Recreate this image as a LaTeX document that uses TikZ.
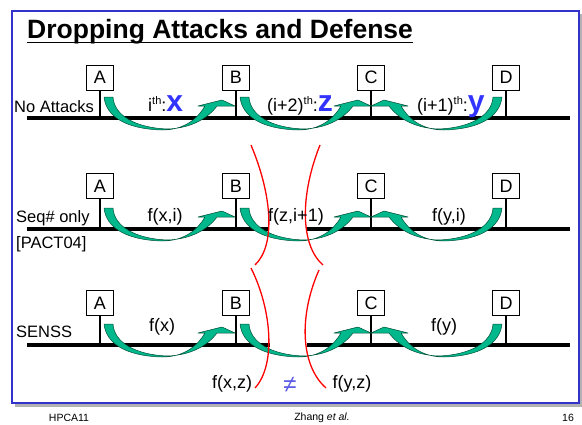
\documentclass[tikz,border=0pt]{standalone}
\usepackage{fontspec}
\setmainfont{Liberation Sans}
\definecolor{frameblue}{RGB}{51,51,204}
\definecolor{xblue}{RGB}{51,51,255}
\definecolor{agreen}{RGB}{0,184,140}
\definecolor{adark}{RGB}{0,80,55}
\definecolor{neqblue}{RGB}{90,90,230}
\begin{document}
\begin{tikzpicture}[x=1pt,y=-1pt,
  box/.style={draw,line width=1pt,fill=white,minimum width=27pt,minimum height=25pt,inner sep=0pt,font=\fontsize{18}{20}\selectfont},
  stem/.style={line width=1.6pt},
  wire/.style={line width=4pt},
  lbl/.style={font=\fontsize{16.5}{19}\selectfont,inner sep=0pt},
  flbl/.style={font=\fontsize{18}{21}\selectfont,inner sep=0pt},
  brk/.style={red,line width=1.3pt},
  garrow/.pic={\filldraw[fill=agreen,draw=adark,line width=0.5pt,line join=round]
     (4,-21) .. controls (6,-2) and (25,11) .. (62,12)
     .. controls (85,12) and (98,0) .. (105,-12)
     -- (98,-12) -- (122,-18) -- (135,-12) -- (117,-12)
     .. controls (108,0) and (92,10) .. (68,11)
     .. controls (35,10) and (14,-3) .. (13,-21) -- cycle;}
]
\useasboundingbox (0,0) rectangle (582,424);
% frame
\fill[white] (12,11) rectangle (579,403);
\draw[gray!60,line width=2.5pt] (581.5,13.5) -- (581.5,405.5) -- (14.5,405.5);
\draw[frameblue,line width=2.5pt] (12,11) rectangle (579,403);
% title
\node[anchor=base west,inner sep=0pt,font=\fontsize{26.5}{30}\selectfont\bfseries] (title) at (27,38) {Dropping Attacks and Defense};
\draw[line width=1.5pt] ([yshift=-4.5pt]title.base west) -- ([yshift=-4.5pt]title.base east);

% ---------- row 1
\coordinate (L1w) at (27,118); \coordinate (L1e) at (570,118);
\draw[wire] (L1w) -- (L1e);
\node[box] (A1) at (100,77.5) {A};
\node[box] (B1) at (236,77.5) {B};
\node[box] (C1) at (371,77.5) {C};
\node[box] (D1) at (506,77.5) {D};
\foreach \n in {A1,B1,C1,D1} \draw[stem] (\n.south) -- (\n.south |- L1w);
\pic at (A1.south |- L1w) {garrow};
\pic at (B1.south |- L1w) {garrow};
\pic[xscale=-1] at (D1.south |- L1w) {garrow};
\node[lbl,anchor=west] (r1) at (14,107) {No Attacks};
\node[flbl,anchor=base west] (x1) at (148,111) {i{\fontsize{11}{12}\selectfont\raisebox{6.5pt}{th}}:{\color{xblue}\fontsize{30}{30}\selectfont\bfseries x}};
\node[flbl,anchor=base west] (z1) at (267,111) {(i+2){\fontsize{11}{12}\selectfont\raisebox{6.5pt}{th}}:{\color{xblue}\fontsize{30}{30}\selectfont\bfseries z}};
\node[flbl,anchor=base west] (y1) at (417,111) {(i+1){\fontsize{11}{12}\selectfont\raisebox{6.5pt}{th}}:{\color{xblue}\fontsize{30}{30}\selectfont\bfseries y}};

% ---------- row 2
\coordinate (L2w) at (27,229); \coordinate (L2m) at (268,229);
\coordinate (L2n) at (307,229); \coordinate (L2e) at (570,229);
\draw[wire] (L2w) -- (L2m);
\draw[wire] (L2n) -- (L2e);
\node[box] (A2) at (100,186) {A};
\node[box] (B2) at (236,186) {B};
\node[box] (C2) at (371,186) {C};
\node[box] (D2) at (506,186) {D};
\foreach \n in {A2,B2,C2,D2} \draw[stem] (\n.south) -- (\n.south |- L2w);
\pic at (A2.south |- L2w) {garrow};
\pic at (B2.south |- L2w) {garrow};
\pic[xscale=-1] at (D2.south |- L2w) {garrow};
\node[lbl,anchor=west] (r2) at (16,218) {Seq\# only};
\node[lbl,anchor=west] (r2b) at (16,244) {[PACT04]};
\node[flbl] (f21) at (165,217) {f(x,i)};
\node[flbl] (f23) at (449,217) {f(y,i)};

% ---------- row 3
\coordinate (L3w) at (27,345); \coordinate (L3m) at (270,345);
\coordinate (L3n) at (307,345); \coordinate (L3e) at (570,345);
\draw[wire] (L3w) -- (L3m);
\draw[wire] (L3n) -- (L3e);
\node[box] (A3) at (100,303) {A};
\node[box] (B3) at (236,303) {B};
\node[box] (C3) at (371,303) {C};
\node[box] (D3) at (506,303) {D};
\foreach \n in {A3,B3,C3,D3} \draw[stem] (\n.south) -- (\n.south |- L3w);
\pic at (A3.south |- L3w) {garrow};
\pic at (B3.south |- L3w) {garrow};
\pic[xscale=-1] at (D3.south |- L3w) {garrow};
\node[lbl,anchor=west] (r3) at (16,332) {SENSS};
\node[flbl] (f31) at (162,327) {f(x)};
\node[flbl] (f33) at (444,327) {f(y)};

% red brackets
\draw[brk] (251,145) .. controls (272,195) and (276,245) .. (255,265);
\draw[brk] (320,145) .. controls (300,195) and (300,245) .. (323,265);
\draw[brk] (251,268) .. controls (272,310) and (276,365) .. (255,388);
\draw[brk] (319,270) .. controls (299,315) and (300,365) .. (326,388);
\node[flbl] (f22) at (296,217) {f(z,i+1)};

% bottom labels
\node[flbl] (fxz) at (232,384) {f(x,z)};
\node[font=\fontsize{24}{24}\selectfont,inner sep=0pt,text=neqblue] (neq) at (290,385) {≠};
\node[flbl] (fyz) at (352,384) {f(y,z)};

% footer
\node[font=\fontsize{10.5}{12}\selectfont,inner sep=0pt] (ft1) at (69,418) {HPCA11};
\node[font=\fontsize{10.5}{12}\selectfont,inner sep=0pt] (ft2) at (322,418) {Zhang \textit{et al.}};
\node[font=\fontsize{10.5}{12}\selectfont,inner sep=0pt] (ft3) at (568,418) {16};
\end{tikzpicture}
\end{document}
